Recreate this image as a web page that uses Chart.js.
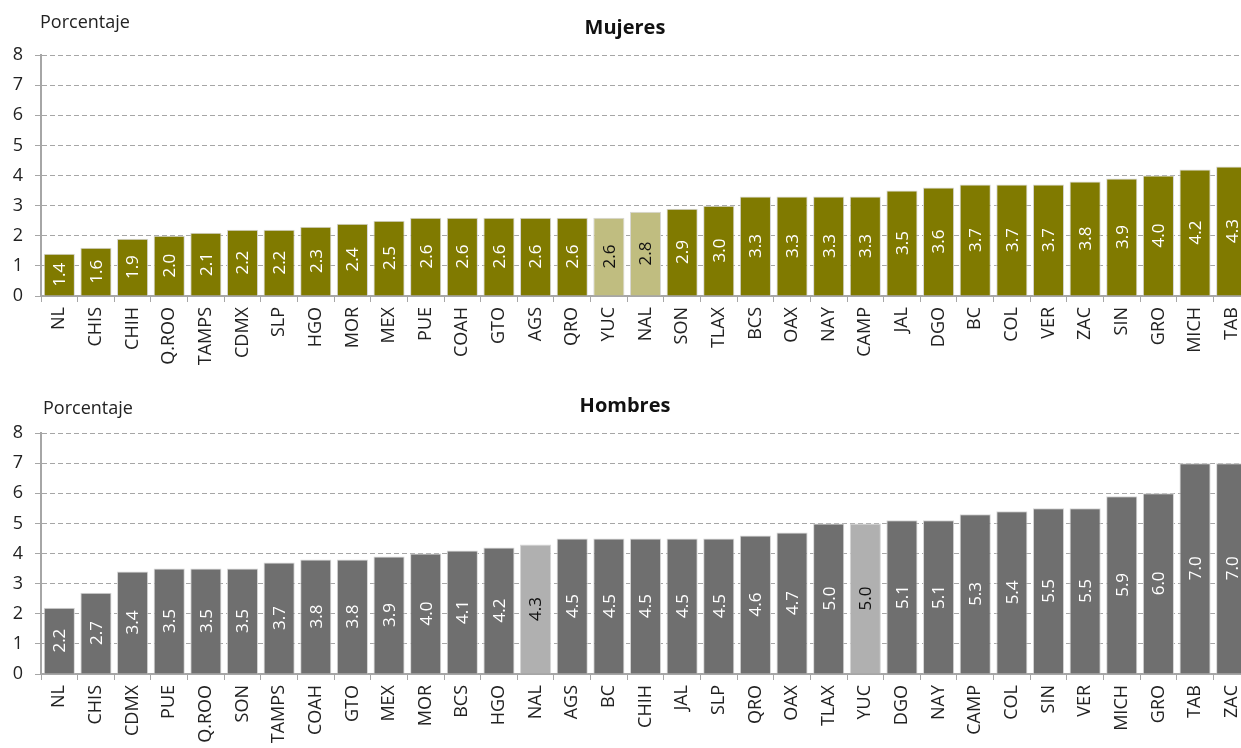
<!DOCTYPE html>
<html>
<head>
<meta charset="utf-8">
<script src="https://cdn.jsdelivr.net/npm/chart.js@4"></script>
<style>
  html, body { margin: 0; padding: 0; background: #fff; overflow: hidden; width: 1241px; height: 748px; }
  .box { position: absolute; left: 0; width: 1260px; height: 380px; }
  .unit { position: absolute; font-family: 'Open Sans', sans-serif; font-size: 18px; color: #222; }
</style>
</head>
<body>
<div class="box" style="top:0"><canvas id="chartMujeres" width="1260" height="380"></canvas></div>
<div class="box" style="top:378px"><canvas id="chartHombres" width="1260" height="380"></canvas></div>
<div class="unit" style="left:40px; top:9px">Porcentaje</div>
<div class="unit" style="left:43px; top:395px">Porcentaje</div>
<script>
// Mujeres
var labelsMujeres = ['NL', 'CHIS', 'CHIH', 'Q.ROO', 'TAMPS', 'CDMX', 'SLP', 'HGO', 'MOR', 'MEX', 'PUE', 'COAH', 'GTO', 'AGS', 'QRO', 'YUC', 'NAL', 'SON', 'TLAX', 'BCS', 'OAX', 'NAY', 'CAMP', 'JAL', 'DGO', 'BC', 'COL', 'VER', 'ZAC', 'SIN', 'GRO', 'MICH', 'TAB'];
var valuesMujeres = [1.4, 1.6, 1.9, 2.0, 2.1, 2.2, 2.2, 2.3, 2.4, 2.5, 2.6, 2.6, 2.6, 2.6, 2.6, 2.6, 2.8, 2.9, 3.0, 3.3, 3.3, 3.3, 3.3, 3.5, 3.6, 3.7, 3.7, 3.7, 3.8, 3.9, 4.0, 4.2, 4.3];

// Hombres
var labelsHombres = ['NL', 'CHIS', 'CDMX', 'PUE', 'Q.ROO', 'SON', 'TAMPS', 'COAH', 'GTO', 'MEX', 'MOR', 'BCS', 'HGO', 'NAL', 'AGS', 'BC', 'CHIH', 'JAL', 'SLP', 'QRO', 'OAX', 'TLAX', 'YUC', 'DGO', 'NAY', 'CAMP', 'COL', 'SIN', 'VER', 'MICH', 'GRO', 'TAB', 'ZAC'];
var valuesHombres = [2.2, 2.7, 3.4, 3.5, 3.5, 3.5, 3.7, 3.8, 3.8, 3.9, 4.0, 4.1, 4.2, 4.3, 4.5, 4.5, 4.5, 4.5, 4.5, 4.6, 4.7, 5.0, 5.0, 5.1, 5.1, 5.3, 5.4, 5.5, 5.5, 5.9, 6.0, 7.0, 7.0];

var highlighted = ['YUC', 'NAL'];
var yTicks = [0, 1, 2, 3, 4, 5, 6, 7, 8];

Chart.defaults.font.family = "'Open Sans', sans-serif";
Chart.defaults.color = '#222';

// valores rotados dentro de cada barra
var barValues = {
  id: 'barValues',
  afterDatasetsDraw: function(chart) {
    var ctx = chart.ctx;
    var meta = chart.getDatasetMeta(0);
    var labels = chart.data.labels;
    ctx.save();
    ctx.font = '17px "Open Sans", sans-serif';
    ctx.textAlign = 'center';
    ctx.textBaseline = 'middle';
    meta.data.forEach(function(bar, i) {
      var v = chart.data.datasets[0].data[i];
      var cy = (bar.y + bar.base) / 2;
      ctx.save();
      ctx.translate(bar.x, cy);
      ctx.rotate(-Math.PI / 2);
      ctx.fillStyle = highlighted.indexOf(labels[i]) >= 0 ? '#111' : '#fff';
      ctx.fillText(v.toFixed(1), 0, 1);
      ctx.restore();
    });
    ctx.restore();
  }
};

function makeChart(id, title, labels, values, color, light) {
  var colors = labels.map(function(l) { return highlighted.indexOf(l) >= 0 ? light : color; });
  return new Chart(document.getElementById(id), {
    type: 'bar',
    data: {
      labels: labels,
      datasets: [{
        data: values,
        backgroundColor: colors,
        borderColor: '#d6d6d6',
        borderWidth: 1,
        barPercentage: 0.85,
        categoryPercentage: 1
      }]
    },
    options: {
      responsive: false,
      animation: false,
      devicePixelRatio: 1,
      layout: { padding: { left: 0, right: 10, top: 0, bottom: 0 } },
      plugins: {
        legend: { display: false },
        tooltip: { enabled: false },
        title: {
          display: true,
          text: title,
          color: '#111',
          font: { size: 20, weight: 'bold' },
          padding: { top: 16, bottom: 15 }
        }
      },
      scales: {
        x: {
          afterFit: function(scale) { scale.height = 84; },
          grid: { display: true, drawOnChartArea: false, drawTicks: true, tickLength: 6, color: '#a6a6a6' },
          border: { display: true, color: '#a6a6a6', width: 2 },
          ticks: { minRotation: 90, maxRotation: 90, autoSkip: false, padding: 5, font: { size: 18 }, color: '#222' }
        },
        y: {
          min: 0,
          max: 8,
          afterFit: function(scale) { scale.width = 41; },
          afterBuildTicks: function(scale) { scale.ticks = yTicks.map(function(v) { return { value: v }; }); },
          grid: { color: '#a6a6a6', tickLength: 6, lineWidth: 1 },
          border: { display: true, color: '#a6a6a6', width: 2, dash: [5, 3] },
          ticks: { padding: 12, font: { size: 18 }, color: '#222' }
        }
      }
    },
    plugins: [barValues]
  });
}

makeChart('chartMujeres', 'Mujeres', labelsMujeres, valuesMujeres, '#807a00', '#c0bd80');
makeChart('chartHombres', 'Hombres', labelsHombres, valuesHombres, '#6f6f6f', '#b0b0b0');
</script>
</body>
</html>
